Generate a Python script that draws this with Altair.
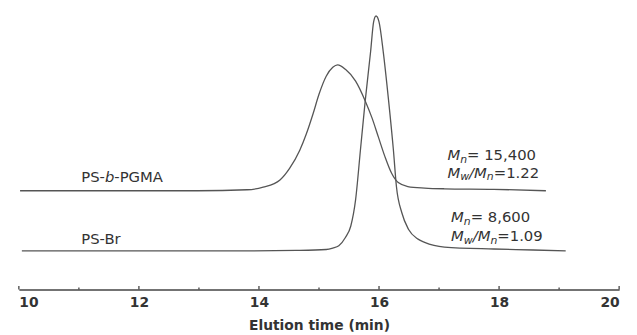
import altair as alt
import pandas as pd

# ---- data ----
pgma_time = [10.02, 11.33, 12.98, 13.80, 14.07, 14.35, 14.51, 14.68, 14.79, 14.90, 15.00, 15.12,
             15.23, 15.31, 15.44, 15.61, 15.77, 15.88, 15.99, 16.10, 16.21, 16.32, 16.48, 16.76,
             17.09, 17.91, 18.78]
pgma_signal = [100, 100, 100, 101, 103.7, 111, 122.7, 141, 157.7, 177.7, 197.7, 216,
               225, 227.5, 223, 211, 191, 174.3, 154.3, 134.3, 117.7, 108.3, 104.3, 102.7,
               102, 101.5, 100]

psbr_time = [10.05, 12.15, 13.80, 14.62, 15.12, 15.23, 15.33, 15.44, 15.53, 15.61, 15.69, 15.77,
             15.86, 15.91, 15.95, 16.00, 16.07, 16.16, 16.24, 16.29, 16.38, 16.49, 16.65, 16.76,
             17.09, 17.91, 18.57, 19.11]
psbr_signal = [39, 39, 39, 39.5, 40.5, 42, 44.3, 52.7, 64.3, 91, 141, 191,
               241, 271, 277, 271, 241, 191, 141, 104.3, 77.7, 61, 51, 47.7,
               43, 41, 40, 39]

major_ticks = [10, 12, 14, 16, 18, 20]
minor_ticks = [11, 13, 15, 17, 19]

# label anchors (time, signal)
pgma_label_pos = (11.04, 114)
psbr_label_pos = (11.04, 51)
pgma_mn_pos = (17.14, 136)
pgma_pdi_pos = (17.14, 118)
psbr_mn_pos = (17.20, 73)
psbr_pdi_pos = (17.20, 54)
pgma_mn_value = "= 15,400"
pgma_pdi_value = "=1.22"
psbr_mn_value = "= 8,600"
psbr_pdi_value = "=1.09"

FONT = "DejaVu Sans"
LINE = "#555555"
TXT = "#333333"
FS = 15
SUB = 11

XS = alt.Scale(domain=[10, 20], nice=False, zero=False)
YS = alt.Scale(domain=[0, 283], nice=False, zero=False)

curves = pd.DataFrame({
    "x": pgma_time + psbr_time,
    "y": pgma_signal + psbr_signal,
    "s": ["PS-b-PGMA"] * len(pgma_time) + ["PS-Br"] * len(psbr_time),
})

XAXIS = alt.Axis(values=major_ticks, format="d", ticks=False, tickSize=0,
                 labelFont=FONT, labelFontSize=14, labelFontWeight="bold",
                 labelColor=TXT, labelPadding=6, domainColor="#444444",
                 domainWidth=1.5, grid=False, titleFont=FONT, titleFontSize=14,
                 titleFontWeight="bold", titleColor=TXT, titlePadding=10)

base_line = alt.Chart(curves).mark_line(color=LINE, strokeWidth=1.3, interpolate="monotone").encode(
    x=alt.X("x:Q", scale=XS, title="Elution time (min)", axis=XAXIS),
    y=alt.Y("y:Q", scale=YS, axis=None),
    detail="s:N",
)

major = alt.Chart(pd.DataFrame({"x": major_ticks})).mark_rule(color="#444444", strokeWidth=1.3).encode(
    x=alt.X("x:Q", scale=XS, title="Elution time (min)", axis=XAXIS),
    y=alt.value(283), y2=alt.value(279.5))
minor = alt.Chart(pd.DataFrame({"x": minor_ticks})).mark_rule(color="#444444", strokeWidth=1.3).encode(
    x=alt.X("x:Q", scale=XS, title="Elution time (min)", axis=XAXIS),
    y=alt.value(283), y2=alt.value(281))


def piece(pos, text, dx=0, dy=0, size=FS, style="normal", weight="normal"):
    df = pd.DataFrame({"x": [pos[0]], "y": [pos[1]], "t": [text]})
    return alt.Chart(df).mark_text(align="left", baseline="middle", dx=dx, dy=dy, fontSize=size,
                                   fontStyle=style, fontWeight=weight, font=FONT, color=TXT).encode(
        x=alt.X("x:Q", scale=XS, title="Elution time (min)", axis=XAXIS),
        y=alt.Y("y:Q", scale=YS, axis=None), text="t:N")


def mn_line(pos, value):
    return [piece(pos, "M", style="italic"),
            piece(pos, "n", dx=12.9, dy=4.5, size=SUB, style="italic"),
            piece(pos, value, dx=19.9)]


def pdi_line(pos, value):
    return [piece(pos, "M", style="italic"),
            piece(pos, "w", dx=12.9, dy=4.5, size=SUB, style="italic"),
            piece(pos, "/", dx=21.9, style="italic"),
            piece(pos, "M", dx=27.0, style="italic"),
            piece(pos, "n", dx=39.9, dy=4.5, size=SUB, style="italic"),
            piece(pos, value, dx=46.9)]


texts = [
    piece(pgma_label_pos, "PS-"),
    piece(pgma_label_pos, "b", dx=24.0, style="italic"),
    piece(pgma_label_pos, "-PGMA", dx=33.5),
    piece(psbr_label_pos, "PS-Br"),
] + mn_line(pgma_mn_pos, pgma_mn_value) + pdi_line(pgma_pdi_pos, pgma_pdi_value) \
  + mn_line(psbr_mn_pos, psbr_mn_value) + pdi_line(psbr_pdi_pos, psbr_pdi_value)

chart = alt.layer(base_line, major, minor, *texts).properties(
    width=608, height=283,
    padding={"left": 11, "top": 0, "right": 10, "bottom": 44},
    autosize=alt.AutoSizeParams(type="none"),
).configure_view(stroke=None)

chart.save("out.html", embed_options={"renderer": "svg", "actions": False})
